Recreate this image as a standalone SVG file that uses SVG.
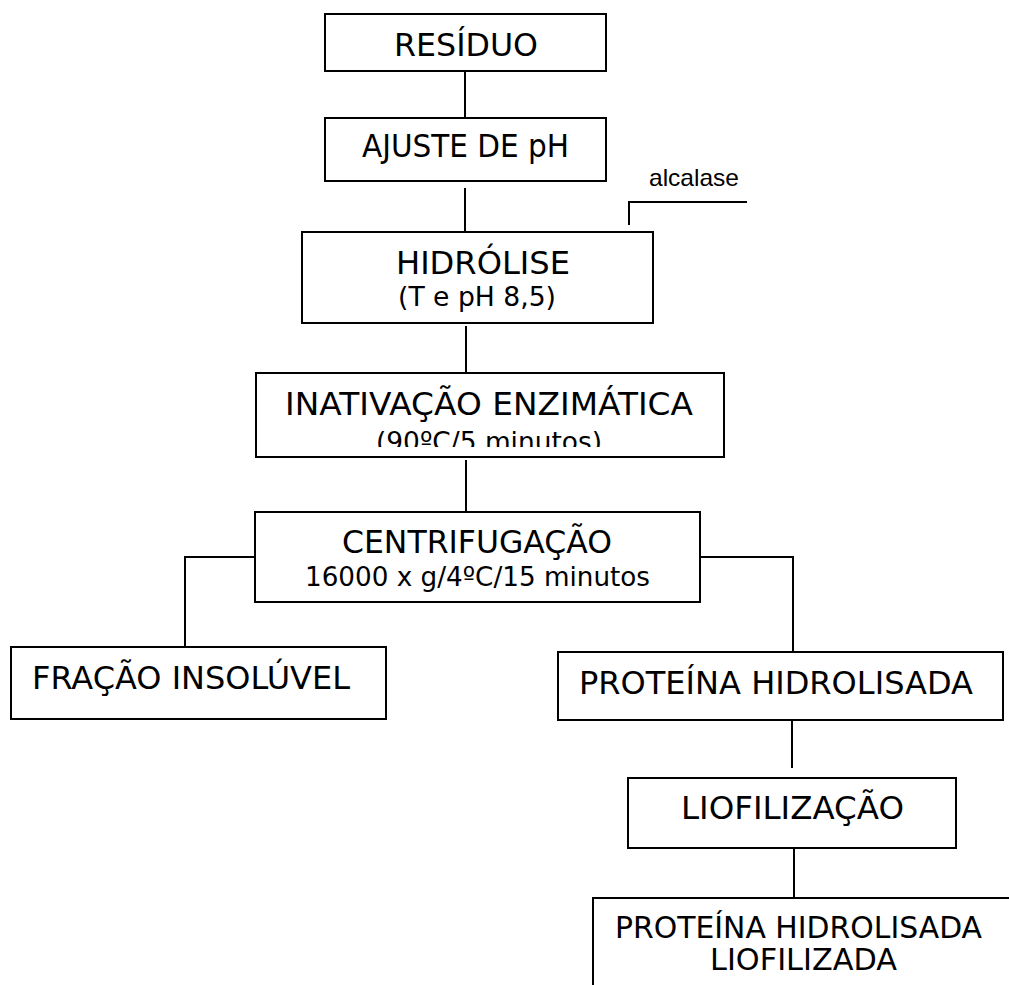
<svg xmlns="http://www.w3.org/2000/svg" width="1009" height="985" viewBox="0 0 1009 985">
<defs>
<style>
.box{fill:#fff;stroke:#000;stroke-width:2}
.ln{fill:none;stroke:#000;stroke-width:2}
.t{font-family:"DejaVu Sans","Verdana",sans-serif;font-size:32px;fill:#000}
.s{font-family:"DejaVu Sans","Verdana",sans-serif;font-size:26px;fill:#000}
.f{font-family:"DejaVu Sans","Verdana",sans-serif;font-size:30px;fill:#000}
.a{font-family:"Liberation Sans","Arial",sans-serif;font-size:24px;fill:#000}
</style>
<clipPath id="clipIn"><rect x="256" y="373" width="468" height="74"/></clipPath>
</defs>
<rect width="1009" height="985" fill="#fff"/>
<g id="connectors">
<line class="ln" x1="465" y1="71" x2="465" y2="118"/>
<line class="ln" x1="465" y1="188" x2="465" y2="232"/>
<line class="ln" x1="466" y1="326" x2="466" y2="373"/>
<line class="ln" x1="466" y1="460" x2="466" y2="512"/>
<polyline class="ln" points="255,557 185,557 185,650"/>
<polyline class="ln" points="700,557 793,557 793,652"/>
<line class="ln" x1="792" y1="720" x2="792" y2="768"/>
<line class="ln" x1="794" y1="848" x2="794" y2="898"/>
<polyline class="ln" points="629,225 629,202 747,202"/>
</g>
<g id="residuo">
<rect class="box" x="325" y="14" width="281" height="57"/>
<text class="t" x="394" y="56" textLength="144" lengthAdjust="spacingAndGlyphs">RESÍDUO</text>
</g>
<g id="ajuste">
<rect class="box" x="325" y="118" width="281" height="63"/>
<text class="t" x="362" y="157" textLength="207" lengthAdjust="spacingAndGlyphs">AJUSTE DE pH</text>
</g>
<g id="alcalase">
<text class="a" x="649" y="186" textLength="90" lengthAdjust="spacingAndGlyphs">alcalase</text>
</g>
<g id="hidrolise">
<rect class="box" x="302" y="232" width="351" height="91"/>
<text class="t" x="396" y="274" textLength="174" lengthAdjust="spacingAndGlyphs">HIDRÓLISE</text>
<text class="s" x="398" y="306" textLength="158" lengthAdjust="spacingAndGlyphs">(T e pH 8,5)</text>
</g>
<g id="inativacao">
<rect class="box" x="256" y="373" width="468" height="84"/>
<text class="t" x="285" y="415" textLength="408" lengthAdjust="spacingAndGlyphs">INATIVAÇÃO ENZIMÁTICA</text>
<text class="s" x="376" y="451" textLength="226" lengthAdjust="spacingAndGlyphs" clip-path="url(#clipIn)">(90ºC/5 minutos)</text>
</g>
<g id="centrifugacao">
<rect class="box" x="255" y="512" width="445" height="90"/>
<text class="t" x="342" y="553" textLength="270" lengthAdjust="spacingAndGlyphs">CENTRIFUGAÇÃO</text>
<text class="s" x="305" y="586" textLength="345" lengthAdjust="spacingAndGlyphs">16000 x g/4ºC/15 minutos</text>
</g>
<g id="fracao">
<rect class="box" x="11" y="647" width="375" height="72"/>
<text class="t" x="32" y="689" textLength="318" lengthAdjust="spacingAndGlyphs">FRAÇÃO INSOLÚVEL</text>
</g>
<g id="proteina">
<rect class="box" x="558" y="652" width="445" height="68"/>
<text class="t" x="579" y="694" textLength="394" lengthAdjust="spacingAndGlyphs">PROTEÍNA HIDROLISADA</text>
</g>
<g id="liofilizacao">
<rect class="box" x="628" y="778" width="328" height="70"/>
<text class="t" x="681" y="819" textLength="223" lengthAdjust="spacingAndGlyphs">LIOFILIZAÇÃO</text>
</g>
<g id="final">
<rect class="box" x="593" y="898" width="430" height="100"/>
<text class="f" x="615" y="938" textLength="367" lengthAdjust="spacingAndGlyphs">PROTEÍNA HIDROLISADA</text>
<text class="f" x="710" y="970" textLength="187" lengthAdjust="spacingAndGlyphs">LIOFILIZADA</text>
</g>
</svg>
